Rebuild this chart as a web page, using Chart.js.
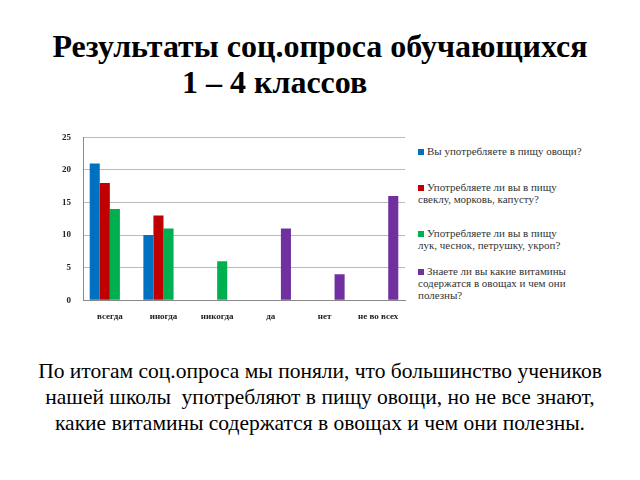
<!DOCTYPE html>
<html><head><meta charset="utf-8">
<script src="https://cdn.jsdelivr.net/npm/chart.js@4"></script>
<style>
body{margin:0;width:640px;height:480px;background:#fff;font-family:"Liberation Serif",serif;position:relative;overflow:hidden}
#t1{position:absolute;top:28px;left:0;width:640px;text-align:center;font-weight:bold;font-size:32px;padding-left:-10px}
#t2{position:absolute;top:64px;left:182px;font-weight:bold;font-size:32px}
#c{position:absolute;left:50px;top:120px;width:360px;height:205px}
#lg{position:absolute;left:418px;top:145px;width:190px;font-size:11px;color:#333;line-height:12px}
.it{position:absolute;left:0;width:190px}
.sw{display:inline-block;width:6px;height:6px;margin-right:3px}
#bt{position:absolute;top:358px;left:0;width:640px;text-align:center;font-size:21.5px;line-height:26px}
</style></head><body>
<div id="t1">Результаты соц.опроса обучающихся</div>
<div id="t2">1 – 4 классов</div>
<div id="c"><canvas id="cv"></canvas></div>
<div id="lg"></div>
<div id="bt">По итогам соц.опроса мы поняли, что большинство учеников<br>нашей школы&nbsp; употребляют в пищу овощи, но не все знают,<br>какие витамины содержатся в овощах и чем они полезны.</div>
<script>
const categories=["всегда","иногда","никогда","да","нет","не во всех"];
const seriesNames=[["Вы употребляете в пищу овощи?"],["Употребляете ли вы в пищу","свеклу, морковь, капусту?"],["Употребляете ли вы в пищу","лук, чеснок, петрушку, укроп?"],["Знаете ли вы какие витамины","содержатся в овощах и чем они","полезны?"]];
const s1=[21,10,null,null,null,null];
const s2=[18,13,null,null,null,null];
const s3=[14,11,6,null,null,null];
const s4=[null,null,null,11,4,16];
const colors=["#0070c0","#c00000","#00b050","#7030a0"];
const yTicks=[0,5,10,15,20,25];
const data=[s1,s2,s3,s4];
const lg=document.getElementById('lg');
const tops=[0,36,82,120];
seriesNames.forEach((n,i)=>{const d=document.createElement('div');d.className='it';d.style.top=tops[i]+'px';
d.innerHTML='<span class="sw" style="background:'+colors[i]+'"></span>'+n.join('<br>');lg.appendChild(d);});
new Chart(document.getElementById('cv'),{type:'bar',
data:{labels:categories,datasets:data.map((d,i)=>({label:seriesNames[i].join(' '),data:d,backgroundColor:colors[i],categoryPercentage:0.75,barPercentage:1}))},
options:{responsive:true,maintainAspectRatio:false,animation:false,
plugins:{legend:{display:false},tooltip:{enabled:false}},
layout:{padding:{top:0,right:5}},
scales:{x:{grid:{display:false},border:{color:'#888'},ticks:{color:'#222',font:{family:'Liberation Serif',size:9,weight:'bold'},maxRotation:0}},
y:{min:0,max:25,afterBuildTicks:a=>{a.ticks=yTicks.map(v=>({value:v}))},grid:{color:'#bbb',drawTicks:false},border:{display:true,color:'#888'},ticks:{padding:12,color:'#222',font:{family:'Liberation Serif',size:9,weight:'bold'}}}}}});
</script></body></html>
